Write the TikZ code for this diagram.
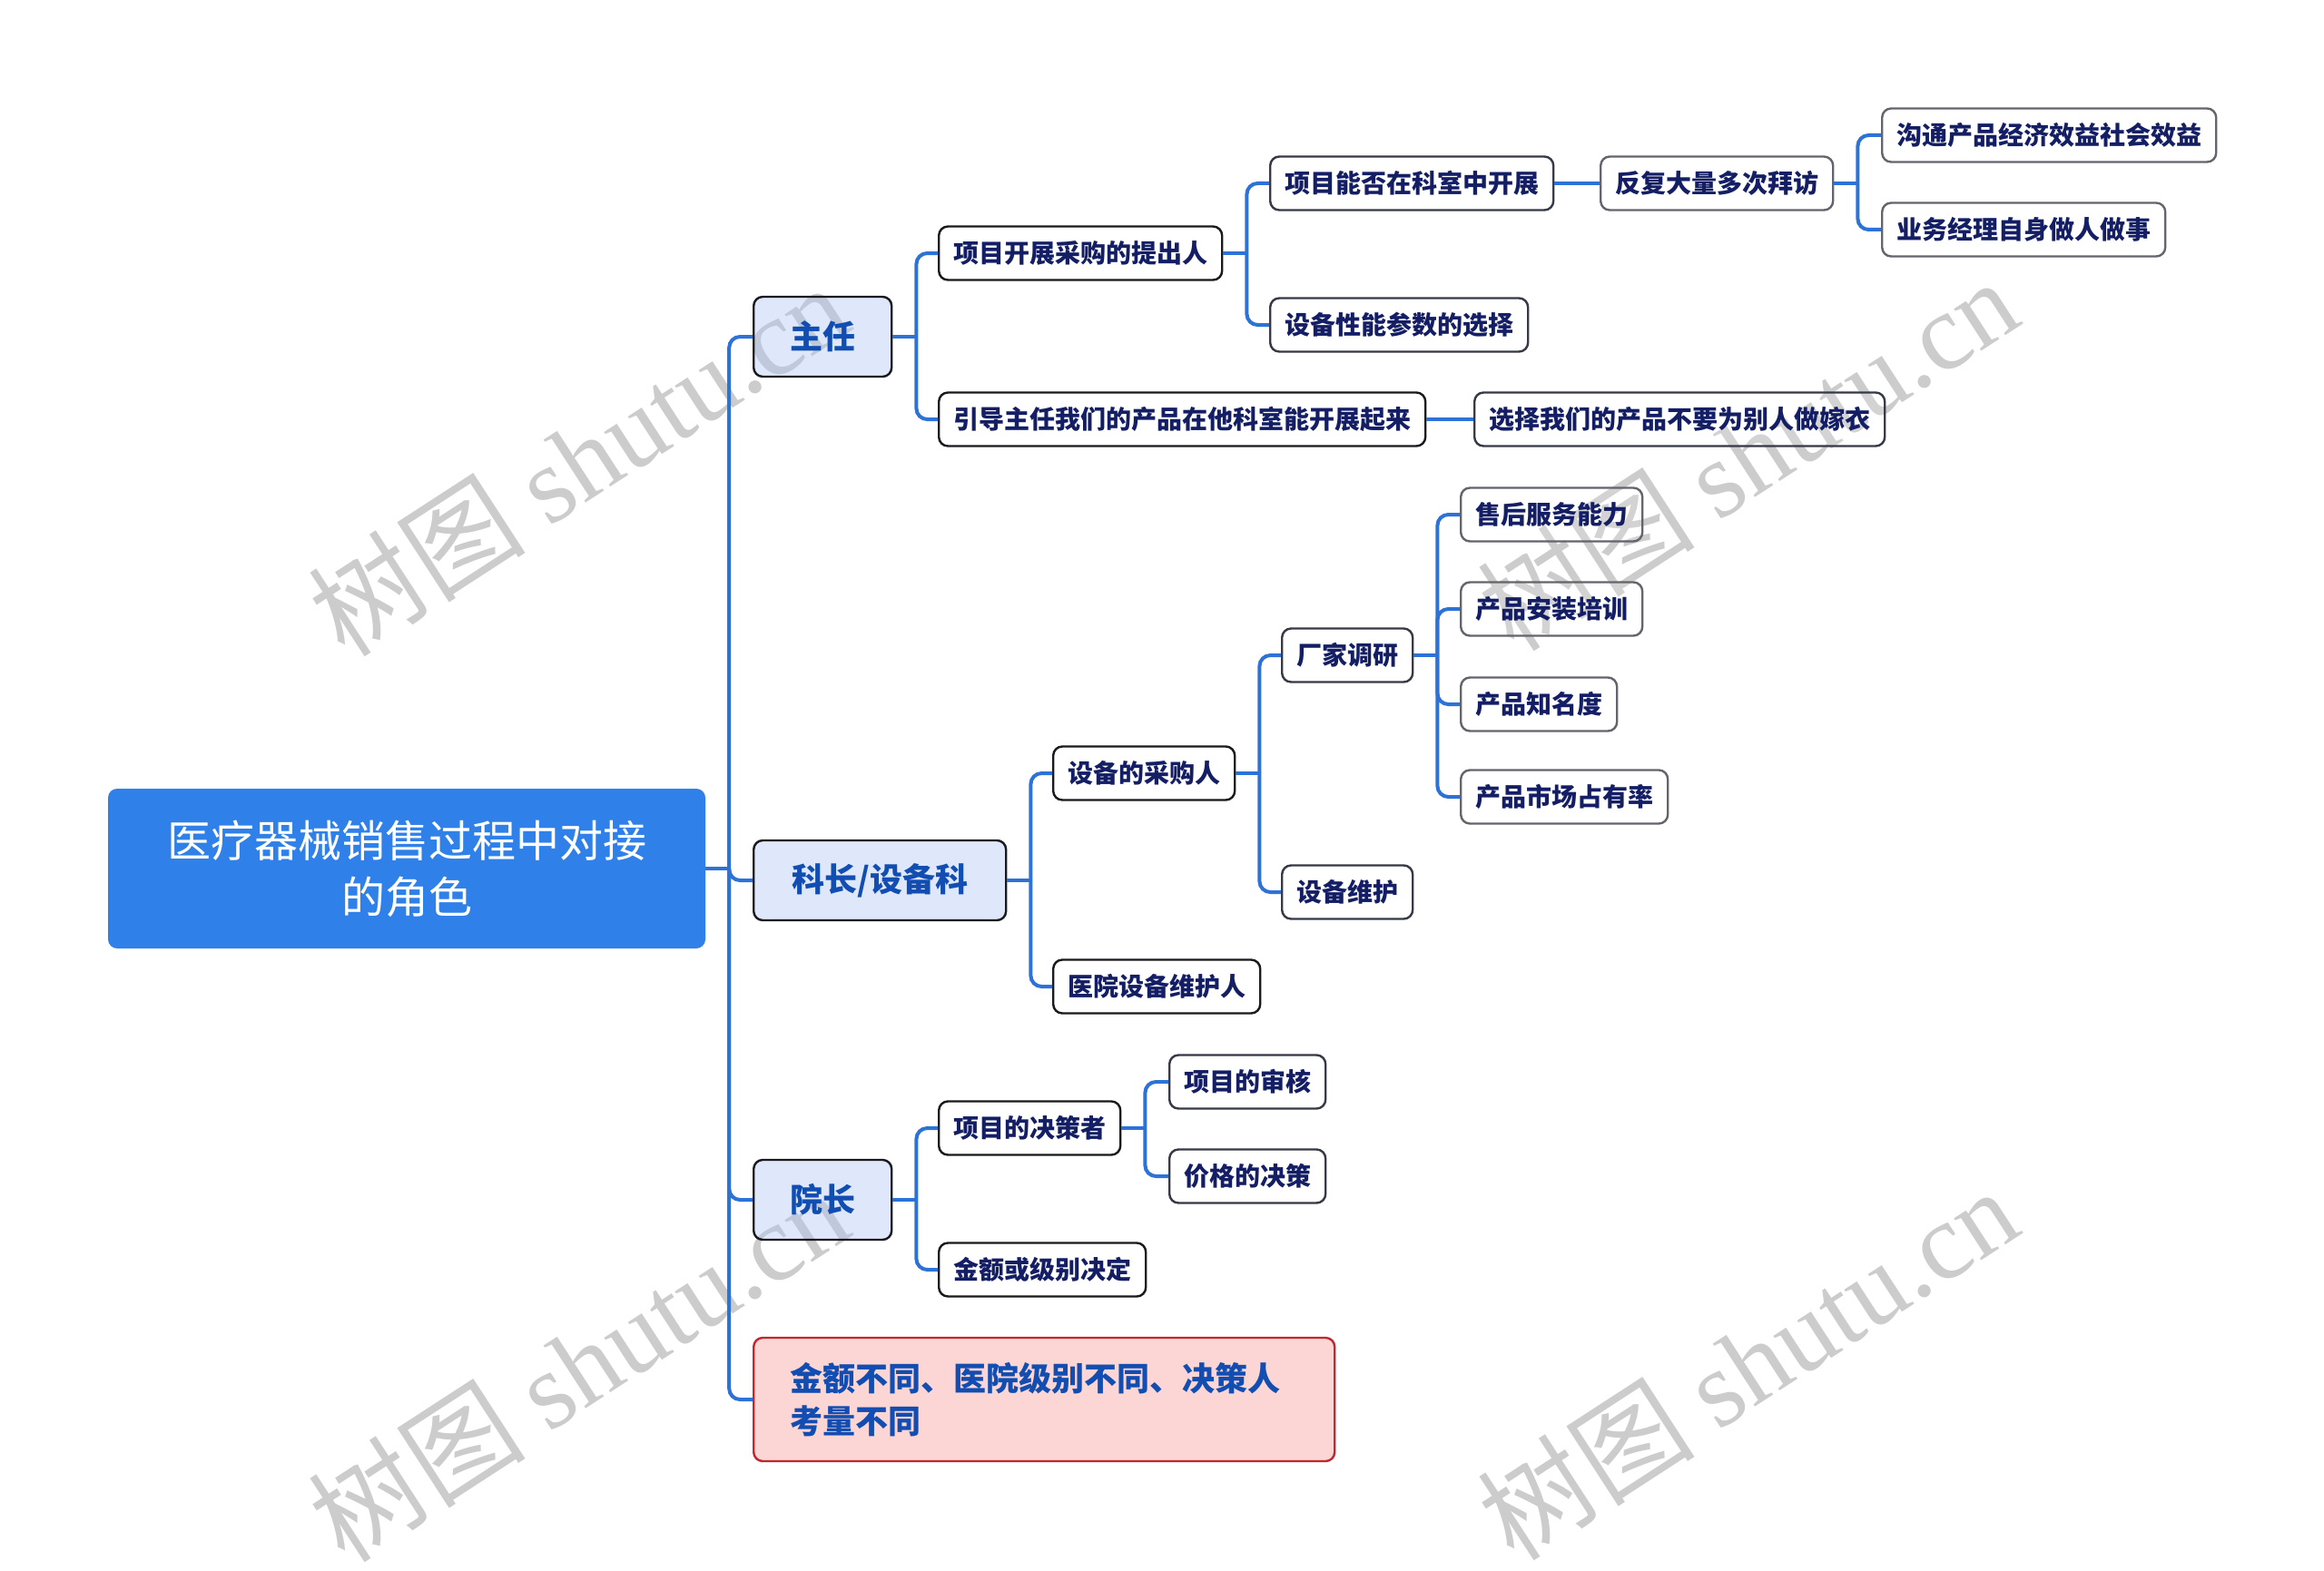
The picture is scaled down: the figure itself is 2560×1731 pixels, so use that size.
\documentclass[tikz,border=0pt]{standalone}
\usepackage{fontspec}
\setmainfont{Noto Sans CJK SC}
\newfontfamily\wmlatin{Liberation Serif}
\definecolor{linkblue}{RGB}{45,115,215}
\definecolor{rootblue}{RGB}{47,128,232}
\definecolor{lonefill}{RGB}{175,198,245}
\definecolor{lonetext}{RGB}{18,78,178}
\definecolor{navytext}{RGB}{20,30,100}
\definecolor{redfill}{RGB}{252,213,213}
\definecolor{redborder}{RGB}{192,40,45}
\definecolor{bordA}{RGB}{25,25,30}
\definecolor{bordB}{RGB}{55,58,70}
\definecolor{bordC}{RGB}{100,100,108}
\definecolor{wmgray}{RGB}{204,204,204}
\newcommand\conn[2]{%
  \draw[link] (#1.east) -- ++(26,0);
  \draw[link, rounded corners=12] (#1.east) ++(26,0) |- (#2.west);}
\newcommand\connstraight[2]{\draw[link] (#1.east) -- (#2.west);}
\begin{document}
\begin{tikzpicture}[x=1pt,y=-1pt,
  link/.style={draw=linkblue, line width=4},
  basebox/.style={rounded corners=10, line width=2.4, anchor=west, inner sep=0pt, align=center},
  rootbox/.style={rounded corners=10, fill=rootblue, text=white, minimum width=658, minimum height=176,
     inner sep=0pt, align=center, font=\fontsize{48}{62}\selectfont},
  lone/.style={basebox, draw=bordA, fill=lonefill, fill opacity=0.4, text opacity=1, minimum height=88, text=lonetext,
     font=\fontsize{36}{44}\selectfont\bfseries},
  ltwo/.style={basebox, draw=bordA, fill=white, fill opacity=0.15, text opacity=1, minimum height=59, text=navytext,
     font=\fontsize{28}{34}\selectfont\bfseries},
  lthree/.style={ltwo, draw=bordB},
  lfour/.style={ltwo, draw=bordC},
  wm/.style={text=wmgray, rotate=33, font=\fontsize{120}{130}\selectfont},
]
\useasboundingbox (0,0) rectangle (2560,1731);
\fill[white] (0,0) rectangle (2560,1731);

% watermarks (behind the map)
\node[wm] (wm1) at (637,506) {树图 {\wmlatin shutu.cn}};
\node[wm] (wm2) at (1925,500) {树图 {\wmlatin shutu.cn}};
\node[wm] (wm3) at (637,1504) {树图 {\wmlatin shutu.cn}};
\node[wm] (wm4) at (1925,1502) {树图 {\wmlatin shutu.cn}};

% root
\node[rootbox] (root) at (448,957) {医疗器械销售过程中对接\\的角色};

% level 1
\node[lone, minimum width=152] (zr) at (829,371) {主任};
\node[lone, minimum width=278] (kz) at (829,970) {科长/设备科};
\node[lone, minimum width=152] (yz) at (829,1322) {院长};
\node[lone, draw=redborder, fill=redfill, fill opacity=1, minimum width=640, minimum height=136,
      text width=560, align=left, font=\fontsize{36}{47}\selectfont\bfseries] (red) at (829,1542)
      {金额不同、医院级别不同、决策人\\考量不同};

% 主任 branch
\node[ltwo, minimum width=312] (a1) at (1033,279) {项目开展采购的提出人};
\node[ltwo, minimum width=536] (a2) at (1033,462) {引导主任我们的产品在他科室能开展起来};
\node[lthree, minimum width=312] (a11) at (1398,202) {项目能否在科室中开展};
\node[lthree, minimum width=284] (a12) at (1398,358) {设备性能参数的选择};
\node[lfour, minimum width=256] (a111) at (1762,202) {反复大量多次拜访};
\node[lfour, minimum width=368] (a1111) at (2072,149) {沟通产品经济效益社会效益};
\node[lfour, minimum width=312] (a1112) at (2072,253) {业务经理自身做人做事};
\node[lthree, minimum width=452] (a21) at (1623,462) {选择我们的产品不要为别人做嫁衣};

% 科长 branch
\node[ltwo, minimum width=200] (b1) at (1159,852) {设备的采购人};
\node[ltwo, minimum width=228] (b2) at (1159,1087) {医院设备维护人};
\node[lthree, minimum width=144] (b11) at (1411,722) {厂家调研};
\node[lthree, minimum width=144] (b12) at (1411,983) {设备维护};
\node[lfour, minimum width=200] (b111) at (1608,567) {售后服务能力};
\node[lfour, minimum width=200] (b112) at (1608,671) {产品安装培训};
\node[lfour, minimum width=172] (b113) at (1608,776) {产品知名度};
\node[lfour, minimum width=228] (b114) at (1608,878) {产品市场占有率};

% 院长 branch
\node[ltwo, minimum width=200] (c1) at (1033,1243) {项目的决策者};
\node[ltwo, minimum width=228] (c2) at (1033,1399) {金额或级别决定};
\node[lthree, minimum width=172] (c11) at (1287,1192) {项目的审核};
\node[lthree, minimum width=172] (c12) at (1287,1296) {价格的决策};

% connectors
\conn{root}{zr}\conn{root}{kz}\conn{root}{yz}\conn{root}{red}
\conn{zr}{a1}\conn{zr}{a2}
\conn{a1}{a11}\conn{a1}{a12}
\connstraight{a11}{a111}
\conn{a111}{a1111}\conn{a111}{a1112}
\connstraight{a2}{a21}
\conn{kz}{b1}\conn{kz}{b2}
\conn{b1}{b11}\conn{b1}{b12}
\conn{b11}{b111}\conn{b11}{b112}\conn{b11}{b113}\conn{b11}{b114}
\conn{yz}{c1}\conn{yz}{c2}
\conn{c1}{c11}\conn{c1}{c12}
\end{tikzpicture}
\end{document}
